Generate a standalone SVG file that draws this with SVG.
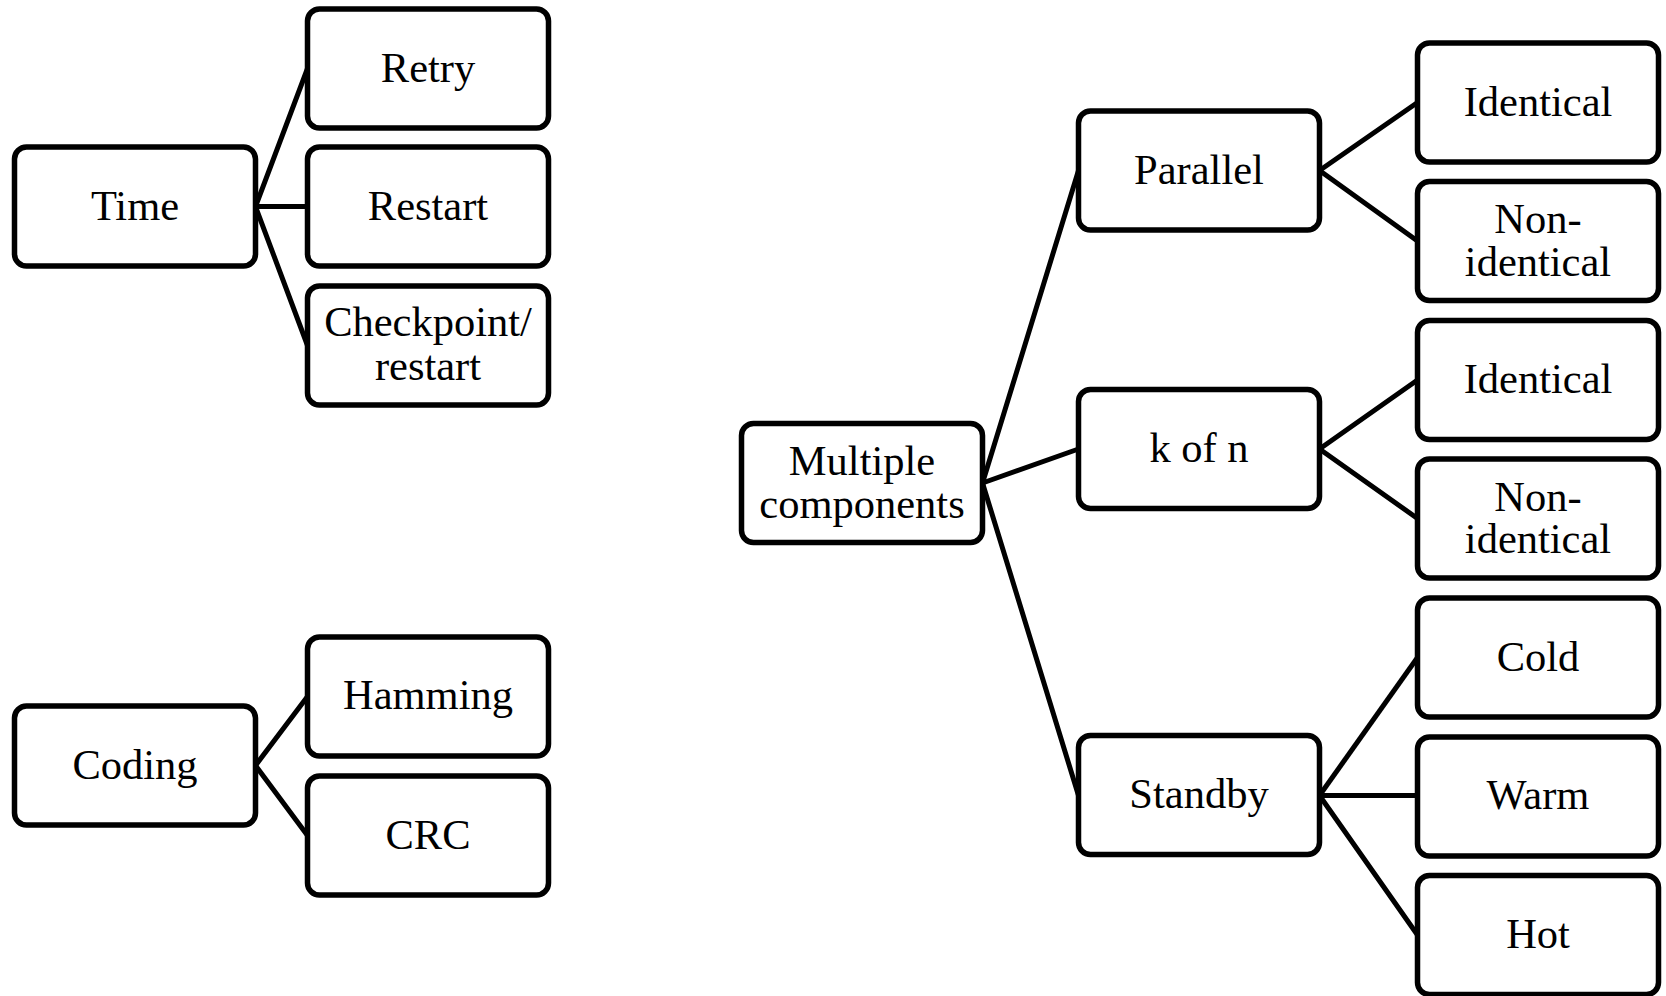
<svg xmlns="http://www.w3.org/2000/svg" width="1666" height="996" viewBox="0 0 1666 996">
  <style>
    .box { fill: #ffffff; stroke: #000000; stroke-width: 5.5; }
    text { font-family: 'Liberation Serif', 'Times New Roman', serif; font-size: 42.5px; fill: #000000; text-anchor: middle; }
    .edge { stroke: #000000; stroke-width: 5; fill: none; stroke-linecap: round; }
  </style>
  <defs>
    <rect id="node" width="241" height="119" rx="12" ry="12"/>
  </defs>
  <rect width="1666" height="996" fill="#ffffff"/>

  <!-- connectors -->
  <g id="connectors">
    <line class="edge" x1="255.5" y1="206.6" x2="307.5" y2="68.5"/>
    <line class="edge" x1="255.5" y1="206.6" x2="307.5" y2="206.6"/>
    <line class="edge" x1="255.5" y1="206.6" x2="307.5" y2="345.5"/>
    <line class="edge" x1="255.5" y1="765.5" x2="307.5" y2="696.4"/>
    <line class="edge" x1="255.5" y1="765.5" x2="307.5" y2="835.6"/>
    <line class="edge" x1="982.5" y1="483" x2="1078.5" y2="170.5"/>
    <line class="edge" x1="982.5" y1="483" x2="1078.5" y2="449"/>
    <line class="edge" x1="982.5" y1="483" x2="1078.5" y2="795.5"/>
    <line class="edge" x1="1319.5" y1="170.5" x2="1417.5" y2="102.5"/>
    <line class="edge" x1="1319.5" y1="170.5" x2="1417.5" y2="241"/>
    <line class="edge" x1="1319.5" y1="449" x2="1417.5" y2="380"/>
    <line class="edge" x1="1319.5" y1="449" x2="1417.5" y2="518.5"/>
    <line class="edge" x1="1319.5" y1="795.5" x2="1417.5" y2="657.5"/>
    <line class="edge" x1="1319.5" y1="795.5" x2="1417.5" y2="795.5"/>
    <line class="edge" x1="1319.5" y1="795.5" x2="1417.5" y2="935"/>
  </g>

  <!-- time redundancy -->
  <g id="time">
    <use href="#node" class="box" x="14.5" y="147"/>
    <text x="135" y="219.6">Time</text>
  </g>
  <g id="retry">
    <use href="#node" class="box" x="307.5" y="9"/>
    <text x="428" y="81.5">Retry</text>
  </g>
  <g id="restart">
    <use href="#node" class="box" x="307.5" y="147"/>
    <text x="428" y="219.6">Restart</text>
  </g>
  <g id="checkpoint">
    <use href="#node" class="box" x="307.5" y="286"/>
    <text x="428" y="336">Checkpoint/</text>
    <text x="428" y="379.5">restart</text>
  </g>

  <!-- coding redundancy -->
  <g id="coding">
    <use href="#node" class="box" x="14.5" y="706"/>
    <text x="135" y="778.5">Coding</text>
  </g>
  <g id="hamming">
    <use href="#node" class="box" x="307.5" y="637"/>
    <text x="428" y="709.4">Hamming</text>
  </g>
  <g id="crc">
    <use href="#node" class="box" x="307.5" y="776"/>
    <text x="428" y="848.6">CRC</text>
  </g>

  <!-- component redundancy -->
  <g id="multiple">
    <use href="#node" class="box" x="741.5" y="423.5"/>
    <text x="862" y="475">Multiple</text>
    <text x="862" y="517.5">components</text>
  </g>
  <g id="parallel">
    <use href="#node" class="box" x="1078.5" y="111"/>
    <text x="1199" y="183.5">Parallel</text>
  </g>
  <g id="kofn">
    <use href="#node" class="box" x="1078.5" y="389.5"/>
    <text x="1199" y="462">k of n</text>
  </g>
  <g id="standby">
    <use href="#node" class="box" x="1078.5" y="735.5"/>
    <text x="1199" y="808">Standby</text>
  </g>

  <g id="parallel-identical">
    <use href="#node" class="box" x="1417.5" y="43"/>
    <text x="1538" y="115.5">Identical</text>
  </g>
  <g id="parallel-nonidentical">
    <use href="#node" class="box" x="1417.5" y="181.5"/>
    <text x="1538" y="233">Non-</text>
    <text x="1538" y="275.5">identical</text>
  </g>
  <g id="kofn-identical">
    <use href="#node" class="box" x="1417.5" y="320.5"/>
    <text x="1538" y="393">Identical</text>
  </g>
  <g id="kofn-nonidentical">
    <use href="#node" class="box" x="1417.5" y="459"/>
    <text x="1538" y="510.5">Non-</text>
    <text x="1538" y="553">identical</text>
  </g>
  <g id="cold">
    <use href="#node" class="box" x="1417.5" y="598"/>
    <text x="1538" y="670.5">Cold</text>
  </g>
  <g id="warm">
    <use href="#node" class="box" x="1417.5" y="737"/>
    <text x="1538" y="809.3">Warm</text>
  </g>
  <g id="hot">
    <use href="#node" class="box" x="1417.5" y="875.5"/>
    <text x="1538" y="948">Hot</text>
  </g>
</svg>
